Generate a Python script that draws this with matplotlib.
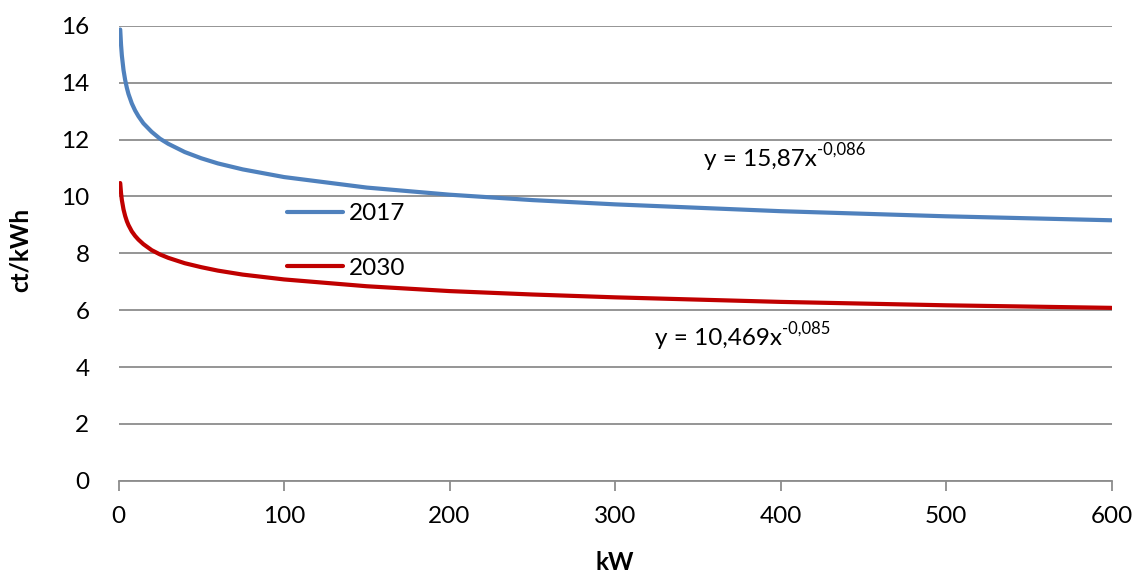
import matplotlib.pyplot as plt

plt.rcParams['font.family'] = ['Lato', 'DejaVu Sans']

# values
kw = [1, 1.5, 2, 3, 4, 5, 6, 8, 10, 12, 15, 20, 25, 30, 40, 50, 60, 75,
      100, 150, 200, 250, 300, 400, 500, 600]
ct_2017 = [15.87, 15.33, 14.95, 14.44, 14.09, 13.82, 13.60, 13.27, 13.02, 12.82,
           12.57, 12.27, 12.03, 11.85, 11.56, 11.34, 11.16, 10.95,
           10.68, 10.31, 10.06, 9.87, 9.72, 9.48, 9.30, 9.16]
ct_2030 = [10.47, 10.11, 9.87, 9.54, 9.31, 9.13, 8.99, 8.77, 8.61, 8.48,
           8.32, 8.11, 7.96, 7.84, 7.65, 7.51, 7.39, 7.25,
           7.08, 6.84, 6.67, 6.55, 6.45, 6.29, 6.17, 6.08]
x_ticks = [0, 100, 200, 300, 400, 500, 600]
y_ticks = [0, 2, 4, 6, 8, 10, 12, 14, 16]

fig = plt.figure(figsize=(11.4, 5.73), dpi=100)
ax = fig.add_axes([0.104, 0.161, 0.871, 0.794])

ax.plot(kw, ct_2017, color="#4F81BD", linewidth=3, label="2017", solid_capstyle="round")
ax.plot(kw, ct_2030, color="#C00000", linewidth=3, label="2030", solid_capstyle="round")

ax.set_xlim(0, 600)
ax.set_ylim(0, 16)
ax.set_xticks(x_ticks)
ax.set_yticks(y_ticks)
ax.yaxis.grid(True, color="#8C8C8C", linewidth=1.3)
ax.set_axisbelow(True)

for s in ["top", "right", "left"]:
    ax.spines[s].set_visible(False)
ax.spines["bottom"].set_color("#8C8C8C")
ax.spines["bottom"].set_linewidth(1.3)
ax.tick_params(axis="x", length=7, width=1.3, color="#8C8C8C", labelsize=17.5, pad=11)
ax.tick_params(axis="y", length=0, labelsize=17.5, pad=21)

ax.set_xlabel("kW", fontsize=17.5, fontweight="bold", va="center")
ax.set_ylabel("ct/kWh", fontsize=17.5, fontweight="bold", va="center")
ax.xaxis.set_label_coords(0.5, -0.18)
ax.yaxis.set_label_coords(-0.099, 0.508)

eq1 = ax.text(354, 11.3, "y = 15,87x", fontsize=17.5, va="center")
ax.annotate("-0,086", xy=(1, 0.6), xycoords=eq1, va="bottom", fontsize=12)
eq2 = ax.text(324, 5.0, "y = 10,469x", fontsize=17.5, va="center")
ax.annotate("-0,085", xy=(1, 0.6), xycoords=eq2, va="bottom", fontsize=12)

ax.legend(loc="center left", bbox_to_anchor=(0.17, 0.527), frameon=False, fontsize=17.5,
          handlelength=2.3, handletextpad=0.25, labelspacing=1.38, borderpad=0, borderaxespad=0)

fig.savefig("out.png", dpi=100)
